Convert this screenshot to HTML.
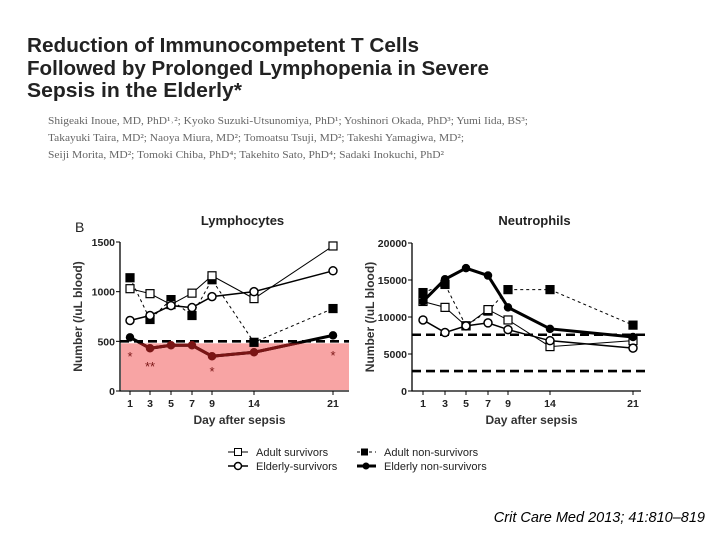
<!DOCTYPE html>
<html><head><meta charset="utf-8"><style>
html,body{margin:0;padding:0;background:#fff;}
svg{display:block;font-family:"Liberation Sans",Arial,sans-serif;}
</style></head><body>
<svg id="s" width="720" height="540" viewBox="0 0 720 540">
<g font-weight="bold" font-size="20" fill="#222">
<text x="27" y="52" textLength="392" lengthAdjust="spacingAndGlyphs">Reduction of Immunocompetent T Cells</text>
<text x="27" y="75" textLength="462" lengthAdjust="spacingAndGlyphs">Followed by Prolonged Lymphopenia in Severe</text>
<text x="27" y="97" textLength="215" lengthAdjust="spacingAndGlyphs">Sepsis in the Elderly*</text>
</g>
<g font-family="Liberation Serif,serif" font-size="10.5" fill="#666">
<text x="48" y="124" textLength="480" lengthAdjust="spacingAndGlyphs">Shigeaki Inoue, MD, PhD¹˒²; Kyoko Suzuki-Utsunomiya, PhD¹; Yoshinori Okada, PhD³; Yumi Iida, BS³;</text>
<text x="48" y="141" textLength="416" lengthAdjust="spacingAndGlyphs">Takayuki Taira, MD²; Naoya Miura, MD²; Tomoatsu Tsuji, MD²; Takeshi Yamagiwa, MD²;</text>
<text x="48" y="158" textLength="396" lengthAdjust="spacingAndGlyphs">Seiji Morita, MD²; Tomoki Chiba, PhD⁴; Takehito Sato, PhD⁴; Sadaki Inokuchi, PhD²</text>
</g>
<text x="75" y="232" font-size="14" fill="#222">B</text>
<g id="p1"></g><g id="p2"></g>
<g font-size="11" fill="#222">
<g><line x1="228" y1="452" x2="248" y2="452" stroke="#000"/><rect x="234.5" y="448.5" width="7" height="7" fill="#fff" stroke="#000"/><text x="256" y="456">Adult survivors</text></g>
<g><line x1="228" y1="466" x2="248" y2="466" stroke="#000" stroke-width="1.5"/><circle cx="238" cy="466" r="3.5" fill="#fff" stroke="#000" stroke-width="1.5"/><text x="256" y="470">Elderly-survivors</text></g>
<g><line x1="357" y1="452" x2="376" y2="452" stroke="#000" stroke-dasharray="3,3"/><rect x="361" y="448.5" width="7" height="7" fill="#000"/><text x="384" y="456">Adult non-survivors</text></g>
<g><line x1="357" y1="466" x2="376" y2="466" stroke="#000" stroke-width="3"/><circle cx="366" cy="466" r="3.5" fill="#000"/><text x="384" y="470">Elderly non-survivors</text></g>
</g>
<text x="705" y="522" text-anchor="end" font-style="italic" font-size="14.5" fill="#000">Crit Care Med 2013; 41:810–819</text>
</svg>
<script>
const days=[1,3,5,7,9,14,21];
const lymAdultSurv=[1030,980,870,985,1160,930,1460];
const lymElderSurv=[710,760,860,840,950,1000,1210];
const lymAdultNon=[1140,720,920,760,1120,490,830];
const lymElderNon=[540,430,460,460,350,390,560];
const neuAdultSurv=[12100,11300,8800,11000,9600,6000,6800];
const neuElderSurv=[9600,7900,8800,9200,8300,6800,5800];
const neuAdultNon=[13300,14400,8800,10800,13700,13700,8900];
const neuElderNon=[12100,15100,16600,15600,11300,8400,7300];
const lymTicks=[0,500,1000,1500];
const neuTicks=[0,5000,10000,15000,20000];
const NS='http://www.w3.org/2000/svg';
function mk(p,t,a){const e=document.createElementNS(NS,t);for(const k in a)e.setAttribute(k,a[k]);p.appendChild(e);return e;}
function xs(px){return d=>{const i=days.findIndex((v,j)=>d<=days[j+1]||j===days.length-2);const t=(d-days[i])/(days[i+1]-days[i]);return px[i]+t*(px[i+1]-px[i]);};}
function panel(g,o){
 const X=xs(o.px),Y=v=>o.y0-(v/o.max)*(o.y0-o.y1);
 const t=mk(g,'text',{x:(o.ax+o.xe)/2+8,y:225,'text-anchor':'middle','font-size':13,'font-weight':'bold',fill:'#222'});t.textContent=o.title;
 
 
 if(o.pink){const r=mk(g,'rect',{x:o.ax+1,y:Y(480),width:o.xe-o.ax-1,height:o.y0-Y(480)-1,fill:'#f8a4a4'});
  
  }
 const ax=mk(g,'path',{d:`M${o.ax},${o.y1}V${o.y0}H${o.xe}`,stroke:'#000','stroke-width':1.3,fill:'none'});
 
 
 o.ticks.forEach(v=>{mk(g,'line',{x1:o.ax-4,x2:o.ax,y1:Y(v),y2:Y(v),stroke:'#000'});
  const l=mk(g,'text',{x:o.ax-5,y:Y(v)+4,'text-anchor':'end','font-size':10.5,'font-weight':'bold',fill:'#222'});l.textContent=v;
  
  });
 days.forEach(d=>{mk(g,'line',{x1:X(d),x2:X(d),y1:o.y0,y2:o.y0+4,stroke:'#000'});
  const l=mk(g,'text',{x:X(d),y:o.y0+16,'text-anchor':'middle','font-size':10.5,'font-weight':'bold',fill:'#222'});l.textContent=d;
  
  });
 const xt=mk(g,'text',{x:(o.ax+o.xe)/2+5,y:o.y0+33,'text-anchor':'middle','font-size':12,'font-weight':'bold',fill:'#333'});xt.textContent='Day after sepsis';
 
 
 const yt=mk(g,'text',{transform:`translate(${o.ax-38},${(o.y0+o.y1)/2}) rotate(-90)`,'text-anchor':'middle','font-size':12,'font-weight':'bold',fill:'#333'});yt.textContent='Number (/uL blood)';
 
 
 o.refs.forEach(v=>{const l=mk(g,'line',{x1:o.ax,x2:o.xe+(o.pink?0:4),y1:Y(v),y2:Y(v),stroke:'#000','stroke-width':2.6,'stroke-dasharray':'9,5'});
  
  });
 const ser=[[o.s[2],'sq-fill','3,3',1,'adult-non-survivors'],[o.s[0],'sq','',1,'adult-survivors'],[o.s[1],'ci','',1.5,'elderly-survivors'],[o.s[3],'ci-fill','',3,'elderly-non-survivors']];
 ser.forEach(([vals,m,da,w,name])=>{
  const sg=mk(g,'g',{});
  
  
  const pts=vals.map((v,i)=>[X(days[i]),Y(v)]);
  const d='M'+pts.map(p=>p.join(',')).join('L');
  mk(sg,'path',{d,stroke:'#000','stroke-width':w,fill:'none','stroke-dasharray':da});
  if(o.pink&&name==='elderly-non-survivors'){
   mk(sg,'clipPath',{id:'cp'}).appendChild(Object.assign(document.createElementNS(NS,'rect'),{})).setAttribute('x',0);
   const cp=sg.lastChild.firstChild;cp.setAttribute('y',Y(480));cp.setAttribute('width',720);cp.setAttribute('height',200);
   mk(sg,'path',{d,stroke:'#7a1515','stroke-width':w,fill:'none','clip-path':'url(#cp)'});}
  pts.forEach(([x,y],i)=>{let e;const red=o.pink&&name==='elderly-non-survivors'&&vals[i]<480;
   if(m.startsWith('sq'))e=mk(sg,'rect',{x:x-4,y:y-4,width:8,height:8,fill:m==='sq'?'#fff':'#000',stroke:'#000','stroke-width':1.2});
   else e=mk(sg,'circle',{cx:x,cy:y,r:m==='ci'?4:3.5,fill:m==='ci'?'#fff':(red?'#7a1515':'#000'),stroke:red?'#7a1515':'#000','stroke-width':1.5});
   
   });
 });
 (o.stars||[]).forEach(([d,v,s])=>{const t=mk(g,'text',{x:X(d),y:Y(v),'text-anchor':'middle','font-size':13,fill:'#7a1515'});t.textContent=s;
  
  });
}
panel(document.getElementById('p1'),{id:'lymphocytes',title:'Lymphocytes',ax:120,xe:349,y0:391,y1:242,max:1500,px:[130,150,171,192,212,254,333],ticks:lymTicks,refs:[500],pink:true,s:[lymAdultSurv,lymElderSurv,lymAdultNon,lymElderNon],stars:[[1,300,'*'],[3,200,'**'],[9,150,'*'],[21,310,'*']]});
panel(document.getElementById('p2'),{id:'neutrophils',title:'Neutrophils',ax:412,xe:641,y0:391,y1:243,max:20000,px:[423,445,466,488,508,550,633],ticks:neuTicks,refs:[7600,2700],pink:false,s:[neuAdultSurv,neuElderSurv,neuAdultNon,neuElderNon]});
</script>
</body></html>
